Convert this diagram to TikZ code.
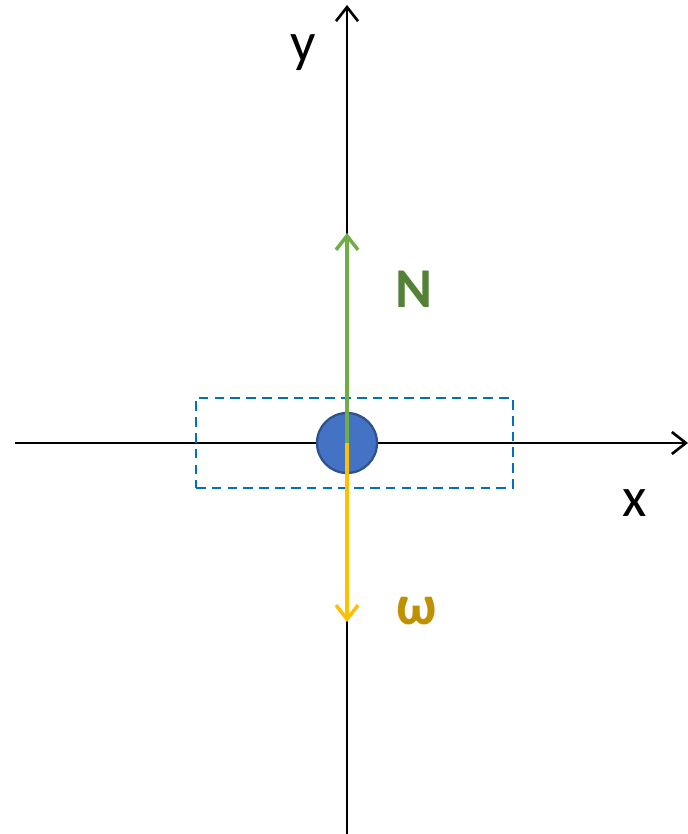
\documentclass[tikz,border=0pt]{standalone}
\usepackage{fontspec}
\setmainfont{Carlito}
\usetikzlibrary{arrows.meta,positioning}
\definecolor{ink}{HTML}{000000}
\definecolor{ballfill}{HTML}{4472C4}
\definecolor{balldraw}{HTML}{2F528F}
\definecolor{boxblue}{HTML}{0070C0}
\definecolor{forcegreen}{HTML}{70AD47}
\definecolor{labelgreen}{HTML}{538135}
\definecolor{forceyellow}{HTML}{FFC000}
\definecolor{labelgold}{HTML}{BF9000}

\begin{document}
\begin{tikzpicture}[
  x=0.02cm,y=-0.02cm,
  axis/.style={draw=ink,line width=1.5pt,-{Straight Barb[length=2.8mm,width=4.4mm]}},
  force/.style={line width=2pt,-{Straight Barb[length=2.8mm,width=4.4mm]}},
  axislabel/.style={font=\fontsize{32}{36}\selectfont,text=ink},
  forcelabel/.style={font=\fontsize{32}{36}\selectfont\bfseries}
]
\useasboundingbox (0,0) rectangle (687,834);

% Axes.
\coordinate (origin) at (347,443);
\coordinate (xstart) at (15,443);
\coordinate (xend) at (688,443);
\coordinate (ystart) at (347,834);
\coordinate (yend) at (347,5);
\draw[axis] (xstart)--(xend);
\draw[axis] (ystart)--(yend);
\node[axislabel] (ylabel) at (303,53) {y};
\node[axislabel] (xlabel) at (635,503) {x};

% Dashed box and ball.
\node[draw=boxblue,line width=1.3pt,dash pattern=on 5.5pt off 3.5pt,
      minimum width=317*0.02cm,minimum height=90*0.02cm] (box) at (354.5,443) {};
\node[circle,draw=balldraw,fill=ballfill,line width=1.3pt,
      minimum size=60*0.02cm,inner sep=0pt] (ball) at (origin) {};

% Forces.
\coordinate (ntip) at (347,233);
\coordinate (wtip) at (347,622);
\draw[force,draw=forceyellow] (origin)--(wtip);
\draw[force,draw=forcegreen] (origin)--(ntip);
\node[forcelabel,text=labelgreen] (nlabel) at (414,289) {N};
\node[forcelabel,text=labelgold] (wlabel) at (417,611) {ω};

\end{tikzpicture}
\end{document}
